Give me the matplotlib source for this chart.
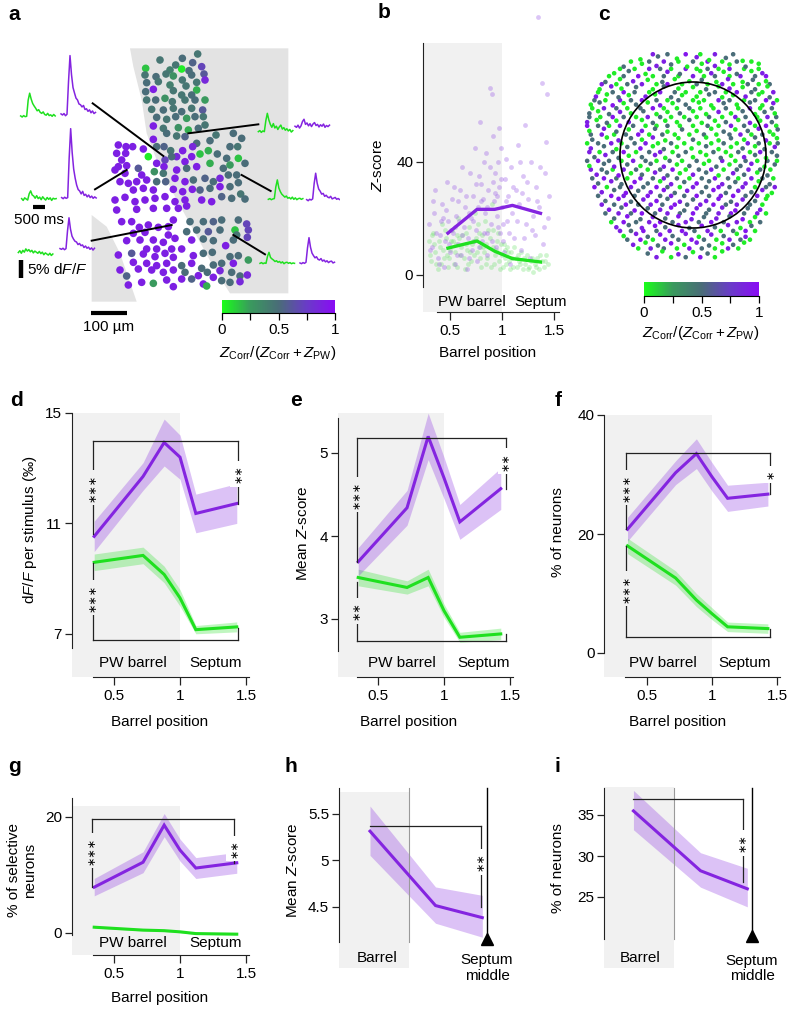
import numpy as np
import matplotlib
matplotlib.use('Agg')
import matplotlib.pyplot as plt
from matplotlib.colors import LinearSegmentedColormap
from matplotlib.patches import Rectangle, Polygon, Circle

plt.rcParams['font.family'] = ['Liberation Sans', 'DejaVu Sans']
plt.rcParams['font.size'] = 11
plt.rcParams['mathtext.fontset'] = 'custom'
plt.rcParams['mathtext.rm'] = 'Liberation Sans'
plt.rcParams['mathtext.it'] = 'Liberation Sans:italic'
plt.rcParams['mathtext.bf'] = 'Liberation Sans:bold'

W, H = 788, 1014
PURPLE = '#8424e0'
GREEN = '#1fe01f'
GRAY = '#f1f1f1'
INK = '#222222'
cmap = LinearSegmentedColormap.from_list(
    'zc', ['#1aff1a', '#3a9a5e', '#4a6d78', '#6a3cc8', '#8a0cf5'])

# ---------------- data ----------------
barrel_pos = [0.35, 0.72, 0.88, 1.0, 1.12, 1.43]

d_corr = [10.53, 12.7, 13.93, 13.4, 11.36, 11.72]
d_corr_err = [0.55, 0.5, 0.85, 0.8, 0.7, 0.72]
d_pw = [9.59, 9.84, 9.15, 8.3, 7.15, 7.25]
d_pw_err = [0.3, 0.3, 0.3, 0.3, 0.15, 0.18]

e_corr = [3.69, 4.34, 5.2, 4.7, 4.17, 4.57]
e_corr_err = [0.17, 0.21, 0.28, 0.25, 0.21, 0.25]
e_pw = [3.5, 3.38, 3.5, 3.1, 2.78, 2.82]
e_pw_err = [0.1, 0.08, 0.1, 0.08, 0.06, 0.07]

f_corr = [20.8, 30.3, 33.5, 29.6, 26.0, 26.7]
f_corr_err = [2.0, 2.0, 2.5, 2.4, 2.2, 2.0]
f_pw = [18.0, 12.6, 8.9, 6.6, 4.4, 4.1]
f_pw_err = [1.3, 1.2, 1.1, 1.0, 0.8, 0.8]

g_corr = [7.9, 12.2, 18.6, 14.3, 11.2, 12.1]
g_corr_err = [1.5, 1.8, 2.0, 1.9, 1.8, 1.8]
g_pw = [1.0, 0.5, 0.4, 0.2, -0.1, -0.2]
g_pw_err = [0.15, 0.15, 0.15, 0.15, 0.15, 0.15]

h_pos = [0.75, 1.17, 1.47]
h_mean = [5.31, 4.51, 4.38]
h_lo = [5.05, 4.32, 4.17]
h_hi = [5.58, 4.71, 4.62]

i_pos = [0.74, 1.17, 1.47]
i_mean = [35.5, 28.2, 26.0]
i_lo = [33.2, 26.2, 23.8]
i_hi = [38.0, 30.4, 28.5]

b_pos = [0.48, 0.76, 0.93, 1.10, 1.37]
b_corr = [14.8, 23.2, 23.2, 24.6, 21.8]
b_pw = [9.5, 12.0, 8.4, 5.8, 4.6]

b_cells_corr = [
    (0.30, 18), (0.33, 10), (0.35, 22), (0.38, 6), (0.40, 14), (0.42, 25), (0.44, 3), (0.45, 12),
    (0.47, 33), (0.48, 19), (0.50, 8), (0.52, 27), (0.53, 15), (0.55, 4), (0.56, 21), (0.58, 11),
    (0.60, 30), (0.61, 7), (0.63, 17), (0.64, 24), (0.66, 2), (0.67, 13), (0.69, 36), (0.70, 20),
    (0.71, 9), (0.72, 28), (0.74, 45), (0.75, 16), (0.76, 5), (0.77, 24), (0.79, 54), (0.80, 32),
    (0.81, 12), (0.83, 40), (0.84, 22), (0.85, 43), (0.86, 7), (0.87, 30), (0.88, 66), (0.89, 18),
    (0.90, 64), (0.91, 49), (0.92, 26), (0.93, 36), (0.94, 10), (0.95, 21), (0.96, 40), (0.97, 31),
    (0.98, 15), (0.99, 45), (1.00, 24), (1.02, 8), (1.03, 34), (1.05, 19), (1.06, 28), (1.08, 4),
    (1.09, 38), (1.10, 22), (1.12, 13), (1.13, 30), (1.15, 46), (1.16, 25), (1.18, 9), (1.20, 35),
    (1.22, 53), (1.23, 18), (1.25, 27), (1.27, 6), (1.28, 40), (1.30, 21), (1.32, 14), (1.33, 31),
    (1.35, 91), (1.36, 24), (1.38, 68), (1.39, 11), (1.41, 36), (1.43, 64), (1.44, 20), (1.45, 28),
    (0.36, 30), (0.55, 17), (0.62, 38), (0.78, 35), (0.82, 27), (0.91, 33), (0.97, 52), (1.04, 41),
    (0.43, 20), (0.58, 26), (0.68, 22), (0.73, 12), (0.86, 15), (0.95, 28), (1.01, 18), (1.19, 29),
    (0.31, 9), (0.34, 26), (0.37, 15), (0.39, 4), (0.41, 19), (0.46, 23), (0.49, 11), (0.51, 16),
    (0.54, 31), (0.57, 7), (0.59, 19), (0.62, 14), (0.65, 28), (0.68, 6), (0.72, 19), (0.75, 32),
    (0.78, 10), (0.80, 26), (0.83, 15), (0.86, 24), (0.88, 38), (0.90, 12), (0.93, 29), (0.96, 17),
    (0.99, 34), (1.01, 12), (1.04, 26), (1.07, 15), (1.11, 31), (1.14, 19), (1.17, 40), (1.21, 13),
    (1.24, 33), (1.29, 16), (1.34, 26), (1.37, 38), (1.40, 17), (1.42, 47),
]
b_cells_pw = [
    (0.30, 12), (0.32, 5), (0.34, 15), (0.36, 8), (0.38, 2), (0.40, 10), (0.42, 18), (0.44, 6),
    (0.46, 13), (0.48, 3), (0.50, 9), (0.52, 16), (0.54, 4), (0.56, 11), (0.58, 20), (0.60, 7),
    (0.62, 14), (0.64, 2), (0.66, 9), (0.68, 17), (0.70, 5), (0.72, 12), (0.74, 22), (0.76, 8),
    (0.78, 15), (0.80, 3), (0.82, 10), (0.84, 19), (0.86, 6), (0.88, 13), (0.90, 25), (0.92, 4),
    (0.94, 9), (0.96, 15), (0.98, 2), (1.00, 7), (1.02, 11), (1.04, 4), (1.06, 8), (1.08, 2),
    (1.10, 6), (1.12, 10), (1.14, 3), (1.16, 5), (1.18, 8), (1.20, 2), (1.22, 4), (1.24, 7),
    (1.26, 3), (1.28, 5), (1.30, 1), (1.32, 4), (1.34, 6), (1.36, 2), (1.38, 5), (1.40, 3),
    (1.42, 7), (1.44, 4), (0.35, 11), (0.47, 7), (0.57, 14), (0.65, 11), (0.79, 10), (0.91, 16),
    (1.03, 9), (1.15, 7), (0.41, 4), (0.53, 12), (0.69, 8), (0.85, 4),
    (0.31, 7), (0.33, 14), (0.37, 4), (0.39, 12), (0.43, 9), (0.45, 16), (0.49, 6), (0.51, 12),
    (0.55, 8), (0.57, 3), (0.59, 13), (0.61, 10), (0.63, 6), (0.65, 15), (0.67, 4), (0.71, 11),
    (0.73, 7), (0.75, 13), (0.77, 18), (0.79, 6), (0.81, 14), (0.83, 8), (0.85, 11), (0.87, 16),
    (0.89, 3), (0.91, 10), (0.93, 7), (0.95, 12), (0.97, 5), (0.99, 11), (1.01, 3), (1.03, 6),
    (1.05, 10), (1.07, 5), (1.09, 8), (1.11, 3), (1.13, 6), (1.17, 4), (1.21, 6), (1.25, 2),
    (1.29, 6), (1.33, 3), (1.37, 7), (1.41, 5),
]

# panel a: cells in field-of-view units (108 units = 100 um), value Z_Corr/(Z_Corr+Z_PW)
a_cells = [
    (593, 162, .45), (547, 175, .5), (480, 180, .45), (578, 188, .55),
    (437, 205, .15), (510, 210, .4), (545, 207, .05), (567, 212, .5), (605, 200, .7), (527, 195, .45),
    (435, 225, .45), (468, 230, .5), (498, 222, .45), (520, 228, .3), (575, 225, .5), (612, 222, .6), (547, 240, .45),
    (440, 248, .5), (475, 245, .45), (510, 255, .4), (558, 258, .45), (590, 247, .45), (615, 240, .85),
    (460, 268, .9), (437, 275, .5), (520, 272, .45), (590, 270, .2), (575, 285, .5), (545, 285, .45),
    (440, 300, .45), (467, 300, .5), (495, 295, .3), (517, 305, .45), (555, 300, .45), (615, 300, .25), (585, 300, .5),
    (455, 328, .45), (490, 330, .5), (520, 325, .45), (545, 335, .5), (575, 325, .45), (608, 330, .6),
    (470, 352, .5), (500, 358, .45), (527, 350, .5), (560, 355, .25), (585, 350, .5), (610, 350, .45),
    (460, 378, .9), (490, 385, .45), (535, 383, .3), (565, 390, .2), (595, 385, .5), (615, 375, .45),
    (460, 418, .9), (500, 400, .5), (530, 408, .45), (555, 410, .55),
    (700, 400, .5), (725, 415, .5), (713, 440, .45), (690, 440, .5), (630, 422, .5), (648, 405, .45), (590, 430, .5),
    (355, 435, .9), (378, 440, .9), (398, 440, .9), (350, 460, .9), (377, 460, .9), (445, 470, .05), (430, 447, .9),
    (470, 440, .5), (492, 440, .55), (512, 452, .45), (548, 452, .9), (578, 440, .85), (600, 462, .15), (625, 452, .2),
    (652, 462, .5), (680, 475, .5), (575, 470, .9), (530, 470, .85), (555, 485, .9), (495, 480, .7), (515, 470, .5),
    (470, 490, .9), (492, 500, .9), (463, 515, .3), (415, 505, .6), (380, 497, .9), (365, 480, .9), (345, 510, .9),
    (355, 500, .9), (375, 520, .9), (425, 525, .9), (490, 520, .45), (530, 510, .9), (560, 505, .5), (590, 500, .9),
    (630, 490, .2), (670, 505, .5), (690, 495, .25), (715, 475, .15), (735, 490, .5), (710, 525, .5),
    (360, 545, .9), (385, 550, .9), (410, 545, .9), (440, 540, .9), (470, 545, .5), (497, 545, .55), (525, 535, .9),
    (555, 545, .9), (580, 540, .5), (615, 535, .55), (640, 545, .5), (660, 535, .85), (685, 525, .5), (715, 548, .5),
    (400, 570, .9), (430, 565, .9), (460, 570, .9), (520, 568, .9), (548, 575, .9), (577, 568, .9), (600, 570, .55),
    (630, 565, .5), (660, 560, .9), (690, 560, .5), (722, 582, .45),
    (345, 600, .9), (375, 592, .9), (405, 605, .9), (435, 600, .9), (465, 595, .9), (495, 590, .9), (525, 605, .9),
    (555, 600, .9), (605, 600, .9), (635, 605, .9), (665, 590, .55), (695, 595, .5), (735, 597, .5),
    (350, 630, .9), (410, 628, .9), (460, 625, .9), (500, 625, .9), (535, 625, .9), (560, 618, .9),
    (520, 660, .9), (570, 665, .5), (610, 665, .5), (640, 665, .55), (665, 660, .5), (715, 660, .5), (740, 672, .7),
    (365, 665, .9), (395, 665, .9), (418, 682, .9), (445, 675, .9), (475, 682, .9), (505, 680, .9),
    (560, 695, .5), (590, 690, .5), (625, 695, .6), (660, 690, .5), (705, 690, .15), (745, 690, .7), (742, 712, .7),
    (710, 705, .45), (400, 700, .9), (435, 697, .9), (505, 705, .9),
    (380, 722, .9), (420, 720, .9), (460, 720, .9), (490, 727, .9), (525, 715, .9), (575, 720, .9), (610, 717, .5),
    (640, 722, .5), (677, 737, .9), (700, 720, .5),
    (440, 747, .9), (470, 747, .9), (515, 747, .9), (545, 747, .9),
    (355, 765, .9), (395, 760, .6), (430, 762, .9), (465, 770, .9), (495, 760, .9), (520, 772, .9), (580, 767, .9),
    (610, 760, .5), (637, 757, .5), (690, 770, .5), (715, 767, .5), (745, 780, .25),
    (400, 787, .9), (440, 790, .9), (470, 797, .9), (500, 790, .9), (545, 797, .5), (575, 790, .9), (605, 805, .5),
    (640, 795, .5), (665, 790, .5), (700, 790, .9),
    (360, 810, .9), (380, 828, .55), (415, 807, .9), (455, 810, .9), (490, 817, .9), (520, 810, .9), (555, 817, .5),
    (595, 827, .9), (622, 817, .5), (660, 812, .85), (695, 817, .5), (720, 828, .5), (742, 825, .85),
    (385, 855, .9), (425, 847, .9), (460, 850, .25), (500, 840, .9), (520, 860, .9), (545, 837, .9), (575, 837, .55),
    (610, 852, .9), (620, 858, .2), (640, 832, .9), (665, 842, .5), (690, 847, .5), (720, 845, .85),
]
a_barrel_outline = [(390, 145), (865, 145), (865, 880), (690, 880), (640, 800), (580, 690), (520, 580),
                    (470, 480), (440, 400), (425, 300), (400, 200)]
a_neighbour_outline = [(275, 645), (320, 680), (360, 760), (410, 905), (275, 905)]

# example traces (dF/F, %), sampled every 65 ms; (cell, trace start) and trace origins in FOV units
a_links = [((490, 468), (278, 310)), ((380, 510), (285, 568)), ((515, 675), (275, 722)),
           ((565, 400), (775, 373)), ((725, 525), (812, 573)), ((700, 705), (795, 763))]
a_trace_origin = [(62, 350, 183, 345), (65, 598, 185, 595), (55, 762, 180, 748),
                  (775, 395, 885, 382), (805, 598, 920, 600), (780, 790, 900, 790)]
a_trace_pw = [
    [0.2, -0.1, 0.3, 0.0, 0.1, 4.5, 6.4, 4.8, 3.6, 2.9, 2.3, 1.6, 1.9, 1.2, 0.9, 1.3, 0.6, 0.4, 0.9, 0.3, 0.5, 0.1, 0.6, 0.2],
    [0.2, -0.3, 0.4, 0.1, -0.2, 1.5, 2.3, 1.2, 0.9, 0.3, 1.0, 0.2, 0.6, -0.1, 0.7, 0.2, -0.2, 0.5, 0.0, 0.4, -0.3, 0.3, 0.1, 0.2],
    [0.4, 0.9, 0.2, 1.0, 0.5, 1.4, 0.8, 1.2, 0.6, 1.0, 0.3, 0.8, 0.5, 0.2, 0.7, 0.1, 0.5, -0.2, 0.3, 0.0, -0.3, 0.2, -0.4, 0.0],
    [0.0, 0.3, -0.2, 0.2, 0.0, 3.0, 5.0, 3.2, 2.0, 1.2, 2.2, 1.0, 1.5, 0.6, 1.3, 1.8, 0.7, 1.1, 0.4, 0.8, 0.2, 0.6, -0.1, 0.3],
    [0.0, 0.2, -0.1, 0.1, 0.2, 3.4, 5.3, 3.1, 2.1, 1.4, 1.0, 0.6, 0.9, 0.3, 0.5, 0.1, 0.6, 0.0, 0.4, -0.1, 0.2, 0.3, 0.0, 0.2],
    [0.0, 0.2, -0.1, 0.1, 0.0, 1.9, 3.0, 1.6, 1.2, 0.9, 0.5, 0.7, 0.3, 0.5, 0.1, 0.4, -0.1, 0.2, 0.3, 0.0, 0.2, -0.1, 0.1, 0.0],
]
a_trace_corr = [
    [0.3, 0.0, 0.4, -0.2, 0.2, 9.0, 16.2, 11.0, 7.5, 6.0, 4.6, 4.1, 3.0, 2.8, 2.2, 2.6, 1.5, 1.7, 1.0, 1.4, 0.6, 1.1, 0.4, 0.7],
    [0.2, -0.1, 0.3, 0.0, 0.2, 11.0, 19.0, 12.5, 8.0, 5.5, 3.6, 2.4, 2.0, 1.2, 1.9, 0.8, 1.1, 0.4, 0.9, 0.2, 0.6, 0.0, 0.4, 0.1],
    [0.2, 0.0, 0.3, -0.1, 0.2, 5.0, 8.6, 5.5, 3.6, 2.8, 2.2, 2.0, 1.3, 1.6, 1.0, 1.2, 0.5, 0.9, 0.3, 0.6, 0.0, 0.4, -0.2, 0.3],
    [0.3, 0.0, 0.6, -0.2, 0.4, 1.6, 2.2, 0.8, 1.2, 0.4, 1.0, 0.2, 0.9, 1.3, 0.5, 0.8, 0.1, 0.7, 0.3, 0.9, 0.0, 0.5, 0.2, 0.6],
    [0.1, -0.2, 0.2, 0.0, 0.3, 4.5, 7.3, 4.6, 3.0, 2.4, 1.6, 1.8, 1.0, 1.3, 0.8, 0.6, 1.0, 0.3, 0.5, 0.7, 0.2, 0.4, 0.1, 0.3],
    [0.1, -0.1, 0.2, 0.0, 0.3, 4.2, 7.0, 4.4, 2.8, 2.1, 1.5, 1.8, 1.1, 0.9, 1.3, 0.6, 0.9, 0.4, 0.7, 0.2, 0.5, 0.6, 0.1, 0.3],
]

# panel c: cell positions in barrel radii; rows (y, x list, value list) plus scattered extra cells
c_rows = [
    (1.38, [-0.55, -0.35, -0.1, 0.1, 0.3, 0.55], [.9, .5, .95, .05, .9, .5]),
    (1.28, [-0.85, -0.6, -0.4, -0.2, 0.0, 0.2, 0.4, 0.6, 0.8], [.05, .5, .9, .05, .5, .95, .05, .5, .05]),
    (1.18, [-1.0, -0.8, -0.6, -0.45, -0.3, -0.1, 0.05, 0.2, 0.35, 0.5, 0.7, 0.9],
     [.05, .05, .9, .5, .05, .9, .05, .5, .05, .9, .05, .05]),
    (1.08, [-1.15, -0.95, -0.75, -0.55, -0.4, -0.2, 0.0, 0.15, 0.3, 0.5, 0.65, 0.85, 1.0],
     [.05, .5, .95, .05, .5, .05, .9, .05, .5, .05, .9, .5, .95]),
    (0.97, [-1.25, -1.05, -0.9, -0.7, -0.5, -0.35, -0.15, 0.05, 0.2, 0.4, 0.55, 0.75, 0.9, 1.05],
     [.9, .05, .5, .9, .05, .95, .05, .5, .05, .9, .05, .5, .05, .5]),
    (0.86, [-1.3, -1.1, -0.95, -0.8, -0.6, -0.45, -0.25, -0.1, 0.1, 0.3, 0.45, 0.6, 0.8, 0.95, 1.1],
     [.05, .5, .95, .5, .05, .9, .5, .05, .05, .5, .05, .9, .5, .05, .9]),
    (0.75, [-1.35, -1.2, -1.0, -0.85, -0.7, -0.5, -0.35, -0.2, 0.0, 0.15, 0.35, 0.5, 0.7, 0.85, 1.0, 1.15],
     [.5, .05, .9, .5, .95, .5, .05, .5, .05, .05, .9, .5, .05, .5, .95, .05]),
    (0.64, [-1.38, -1.22, -1.05, -0.9, -0.72, -0.55, -0.4, -0.22, -0.05, 0.1, 0.28, 0.45, 0.62, 0.78, 0.92, 1.08],
     [.05, .9, .5, .05, .5, .95, .05, .05, .5, .05, .05, .5, .05, .9, .05, .5]),
    (0.52, [-1.42, -1.27, -1.1, -0.95, -0.78, -0.62, -0.45, -0.3, -0.12, 0.05, 0.22, 0.4, 0.58, 0.72, 0.88, 1.02, 1.14],
     [.5, .05, .95, .5, .05, .9, .5, .05, .05, .05, .5, .05, .9, .5, .05, .9, .5]),
    (0.40, [-1.45, -1.3, -1.15, -1.0, -0.82, -0.65, -0.5, -0.35, -0.18, 0.0, 0.2, 0.35, 0.52, 0.7, 0.85, 1.0, 1.14],
     [.95, .5, .05, .9, .5, .05, .05, .5, .05, .05, .5, .05, .9, .5, .05, .95, .05]),
    (0.28, [-1.4, -1.25, -1.08, -0.92, -0.75, -0.6, -0.42, -0.25, -0.05, 0.15, 0.32, 0.5, 0.65, 0.8, 0.95, 1.1],
     [.5, .9, .05, .5, .95, .05, .5, .05, .05, .5, .05, .5, .9, .05, .5, .05]),
    (0.16, [-1.45, -1.3, -1.12, -0.98, -0.8, -0.65, -0.48, -0.3, -0.12, 0.08, 0.25, 0.42, 0.6, 0.75, 0.9, 1.05, 1.16],
     [.05, .5, .9, .05, .5, .9, .05, .5, .05, .05, .05, .5, .05, .9, .5, .05, .5]),
    (0.04, [-1.42, -1.28, -1.1, -0.95, -0.78, -0.6, -0.45, -0.28, -0.1, 0.1, 0.28, 0.45, 0.62, 0.78, 0.92, 1.08],
     [.9, .05, .5, .95, .05, .5, .9, .05, .5, .05, .5, .05, .5, .05, .9, .5]),
    (-0.08, [-1.45, -1.3, -1.15, -0.98, -0.82, -0.65, -0.5, -0.32, -0.15, 0.05, 0.22, 0.4, 0.58, 0.72, 0.88, 1.02, 1.15],
     [.5, .95, .5, .05, .9, .5, .05, .5, .05, .5, .05, .9, .05, .5, .05, .5, .05]),
    (-0.20, [-1.4, -1.25, -1.1, -0.95, -0.78, -0.62, -0.45, -0.28, -0.1, 0.08, 0.25, 0.42, 0.6, 0.76, 0.92, 1.06],
     [.9, .5, .05, .9, .5, .05, .5, .95, .05, .5, .9, .05, .5, .9, .5, .05]),
    (-0.32, [-1.38, -1.22, -1.05, -0.9, -0.72, -0.55, -0.4, -0.22, -0.05, 0.12, 0.3, 0.48, 0.62, 0.8, 0.95, 1.1],
     [.5, .95, .5, .05, .9, .5, .9, .5, .05, .5, .95, .5, .05, .9, .5, .05]),
    (-0.44, [-1.35, -1.18, -1.0, -0.85, -0.68, -0.5, -0.35, -0.18, 0.0, 0.18, 0.35, 0.5, 0.68, 0.85, 1.0, 1.12],
     [.95, .05, .5, .9, .5, .95, .5, .05, .9, .5, .95, .5, .9, .05, .5, .9]),
    (-0.56, [-1.3, -1.12, -0.95, -0.8, -0.62, -0.45, -0.3, -0.12, 0.05, 0.22, 0.38, 0.55, 0.72, 0.88, 1.02],
     [.5, .95, .9, .5, .95, .5, .9, .5, .95, .5, .9, .95, .5, .9, .05]),
    (-0.68, [-1.25, -1.08, -0.92, -0.75, -0.58, -0.42, -0.25, -0.08, 0.1, 0.28, 0.45, 0.6, 0.78, 0.95],
     [.9, .5, .95, .5, .9, .5, .95, .5, .9, .95, .5, .9, .5, .05]),
    (-0.80, [-1.2, -1.02, -0.85, -0.7, -0.52, -0.35, -0.18, 0.0, 0.18, 0.35, 0.52, 0.7, 0.88, 1.0],
     [.5, .9, .5, .95, .5, .9, .5, .95, .5, .9, .95, .5, .9, .05]),
    (-0.92, [-1.12, -0.95, -0.78, -0.6, -0.45, -0.28, -0.1, 0.08, 0.25, 0.42, 0.6, 0.78, 0.92],
     [.05, .95, .5, .9, .95, .5, .9, .5, .95, .5, .9, .05, .5]),
    (-1.04, [-1.0, -0.85, -0.68, -0.5, -0.32, -0.15, 0.02, 0.2, 0.38, 0.55, 0.72, 0.85],
     [.9, .5, .95, .5, .9, .95, .5, .9, .05, .5, .95, .05]),
    (-1.16, [-0.9, -0.72, -0.55, -0.38, -0.2, -0.02, 0.15, 0.32, 0.5, 0.65, 0.78],
     [.5, .95, .05, .9, .5, .95, .5, .05, .9, .5, .05]),
    (-1.28, [-0.75, -0.58, -0.4, -0.22, -0.05, 0.12, 0.3, 0.48, 0.62], [.05, .9, .5, .05, .95, .5, .05, .9, .05]),
    (-1.40, [-0.5, -0.3, -0.1, 0.1, 0.3], [.9, .05, .5, .95, .05]),
]
c_extra = [
    (-0.72, 1.31, .05), (-0.48, 1.35, .5), (-0.22, 1.32, .05), (0.05, 1.34, .9), (0.22, 1.30, .05), (0.45, 1.33, .5),
    (0.68, 1.29, .05), (-0.95, 1.21, .5), (-0.7, 1.25, .05), (-0.5, 1.22, .9), (-0.3, 1.24, .5), (-0.08, 1.21, .05),
    (0.12, 1.25, .05), (0.3, 1.22, .9), (0.5, 1.24, .05), (0.72, 1.21, .5), (0.9, 1.25, .05),
    (-1.08, 1.12, .05), (-0.88, 1.15, .5), (-0.65, 1.11, .05), (-0.35, 1.14, .9), (-0.18, 1.11, .5), (0.1, 1.15, .05),
    (0.25, 1.12, .9), (0.42, 1.14, .05), (0.6, 1.11, .5), (0.8, 1.15, .05), (0.95, 1.12, .9),
    (-1.2, 1.0, .5), (-1.0, 1.04, .05), (-0.82, 1.01, .9), (-0.62, 1.03, .05), (-0.42, 1.0, .5), (-0.25, 1.04, .05),
    (-0.05, 1.01, .05), (0.12, 1.03, .5), (0.32, 1.0, .05), (0.48, 1.04, .9), (0.68, 1.0, .05), (0.82, 1.03, .5),
    (1.0, 1.01, .05), (-1.28, 0.9, .05), (-1.12, 0.94, .9), (-0.98, 0.91, .05), (-0.78, 0.93, .5), (-0.55, 0.9, .05),
    (-0.4, 0.94, .5), (-0.2, 0.91, .05), (0.0, 0.93, .05), (0.18, 0.9, .5), (0.35, 0.94, .05), (0.5, 0.91, .9),
    (0.68, 0.93, .05), (0.85, 0.9, .5), (1.02, 0.94, .05),
    (-1.33, 0.8, .9), (-1.18, 0.83, .05), (-1.02, 0.79, .5), (-0.88, 0.82, .05), (-0.65, 0.8, .9), (-0.52, 0.83, .05),
    (-0.3, 0.79, .5), (-0.15, 0.82, .05), (0.05, 0.8, .05), (0.22, 0.83, .5), (0.4, 0.79, .05), (0.55, 0.82, .05),
    (0.72, 0.8, .9), (0.9, 0.83, .05), (1.05, 0.79, .5),
    (-1.4, 0.69, .05), (-1.28, 0.72, .5), (-1.1, 0.68, .95), (-0.95, 0.71, .05), (-0.78, 0.69, .5), (-0.62, 0.72, .05),
    (-0.45, 0.68, .9), (-0.28, 0.71, .05), (-0.1, 0.69, .5), (0.08, 0.72, .05), (0.25, 0.68, .05), (0.42, 0.71, .5),
    (0.6, 0.69, .05), (0.78, 0.72, .5), (0.95, 0.68, .05), (1.1, 0.71, .9),
    (-1.42, 0.57, .5), (-1.3, 0.6, .05), (-1.15, 0.56, .5), (-1.0, 0.59, .9), (-0.85, 0.57, .05), (-0.68, 0.6, .5),
    (-0.5, 0.56, .05), (-0.35, 0.59, .05), (-0.18, 0.57, .5), (0.0, 0.6, .05), (0.18, 0.56, .05), (0.35, 0.59, .9),
    (0.52, 0.57, .05), (0.68, 0.6, .5), (0.85, 0.56, .05), (0.98, 0.59, .5), (1.12, 0.57, .05),
    (-1.45, 0.45, .9), (-1.32, 0.48, .05), (-1.18, 0.44, .5), (-1.05, 0.47, .05), (-0.88, 0.45, .9), (-0.7, 0.48, .05),
    (-0.55, 0.44, .5), (-0.38, 0.47, .05), (-0.22, 0.45, .05), (-0.05, 0.48, .5), (0.12, 0.44, .05), (0.3, 0.47, .05),
    (0.45, 0.45, .5), (0.62, 0.48, .05), (0.78, 0.44, .9), (0.92, 0.47, .05), (1.08, 0.45, .5),
    (-1.42, 0.33, .05), (-1.22, 0.36, .9), (-1.05, 0.32, .5), (-0.88, 0.35, .05), (-0.7, 0.33, .9), (-0.52, 0.36, .5),
    (-0.35, 0.32, .05), (-0.15, 0.35, .5), (0.05, 0.33, .05), (0.25, 0.36, .05), (0.42, 0.32, .5), (0.58, 0.35, .05),
    (0.75, 0.33, .5), (0.9, 0.36, .9), (1.05, 0.32, .05), (1.16, 0.35, .5),
    (-1.38, 0.21, .5), (-1.18, 0.24, .05), (-1.02, 0.2, .9), (-0.85, 0.23, .5), (-0.7, 0.21, .05), (-0.55, 0.24, .9),
    (-0.38, 0.2, .05), (-0.2, 0.23, .05), (0.0, 0.21, .5), (0.18, 0.24, .05), (0.35, 0.2, .05), (0.52, 0.23, .5),
    (0.7, 0.21, .05), (0.85, 0.24, .5), (1.0, 0.2, .9), (1.15, 0.23, .05),
    (-1.4, 0.09, .9), (-1.22, 0.12, .5), (-1.05, 0.08, .05), (-0.9, 0.11, .5), (-0.72, 0.09, .95), (-0.55, 0.12, .05),
    (-0.4, 0.08, .5), (-0.22, 0.11, .05), (-0.02, 0.09, .05), (0.18, 0.12, .5), (0.35, 0.08, .05), (0.52, 0.11, .05),
    (0.68, 0.09, .5), (0.85, 0.12, .05), (0.98, 0.08, .5), (1.12, 0.11, .9),
    (-1.35, -0.03, .5), (-1.2, 0.0, .9), (-1.02, -0.04, .5), (-0.88, -0.01, .05), (-0.7, -0.03, .5), (-0.52, 0.0, .9),
    (-0.38, -0.04, .05), (-0.2, -0.01, .5), (0.0, -0.03, .05), (0.18, 0.0, .05), (0.38, -0.04, .5), (0.52, -0.01, .05),
    (0.7, -0.03, .9), (0.85, 0.0, .5), (1.0, -0.04, .05), (1.15, -0.01, .5),
    (-1.42, -0.15, .05), (-1.22, -0.12, .5), (-1.08, -0.16, .9), (-0.9, -0.13, .5), (-0.72, -0.15, .05),
    (-0.58, -0.12, .5), (-0.4, -0.16, .9), (-0.22, -0.13, .05), (-0.05, -0.15, .5), (0.15, -0.12, .05),
    (0.32, -0.16, .5), (0.5, -0.13, .05), (0.65, -0.15, .5), (0.8, -0.12, .9), (0.98, -0.16, .05), (1.12, -0.13, .5),
    (-1.32, -0.27, .9), (-1.18, -0.24, .5), (-1.02, -0.28, .95), (-0.85, -0.25, .05), (-0.7, -0.27, .5),
    (-0.52, -0.24, .9), (-0.35, -0.28, .5), (-0.18, -0.25, .05), (0.0, -0.27, .9), (0.18, -0.24, .5),
    (0.35, -0.28, .05), (0.55, -0.25, .9), (0.7, -0.27, .5), (0.88, -0.24, .05), (1.02, -0.28, .5),
    (-1.3, -0.39, .5), (-1.12, -0.36, .9), (-0.98, -0.4, .5), (-0.8, -0.37, .95), (-0.62, -0.39, .5),
    (-0.45, -0.36, .05), (-0.3, -0.4, .9), (-0.12, -0.37, .5), (0.05, -0.39, .95), (0.22, -0.36, .5),
    (0.4, -0.4, .9), (0.58, -0.37, .5), (0.72, -0.39, .9), (0.9, -0.36, .05), (1.05, -0.4, .5),
    (-1.25, -0.51, .9), (-1.08, -0.48, .5), (-0.92, -0.52, .95), (-0.75, -0.49, .5), (-0.58, -0.51, .9),
    (-0.4, -0.48, .95), (-0.25, -0.52, .5), (-0.08, -0.49, .9), (0.12, -0.51, .5), (0.28, -0.48, .95),
    (0.45, -0.52, .5), (0.62, -0.49, .9), (0.8, -0.51, .5), (0.95, -0.48, .9), (1.08, -0.52, .05),
    (-1.2, -0.63, .5), (-1.02, -0.6, .95), (-0.85, -0.64, .5), (-0.68, -0.61, .9), (-0.5, -0.63, .95),
    (-0.35, -0.6, .5), (-0.18, -0.64, .9), (0.0, -0.61, .5), (0.18, -0.63, .9), (0.35, -0.6, .95),
    (0.52, -0.64, .5), (0.68, -0.61, .9), (0.85, -0.63, .5), (1.0, -0.6, .05),
    (-1.15, -0.75, .9), (-0.98, -0.72, .5), (-0.8, -0.76, .95), (-0.62, -0.73, .5), (-0.45, -0.75, .9),
    (-0.3, -0.72, .95), (-0.12, -0.76, .5), (0.05, -0.73, .9), (0.22, -0.75, .5), (0.4, -0.72, .9),
    (0.58, -0.76, .95), (0.75, -0.73, .5), (0.92, -0.75, .9),
    (-1.08, -0.87, .5), (-0.9, -0.84, .95), (-0.72, -0.88, .5), (-0.55, -0.85, .9), (-0.38, -0.87, .5),
    (-0.2, -0.84, .95), (-0.02, -0.88, .9), (0.15, -0.85, .5), (0.32, -0.87, .9), (0.5, -0.84, .5),
    (0.68, -0.88, .95), (0.85, -0.85, .05),
    (-1.05, -0.99, .9), (-0.88, -0.96, .5), (-0.7, -1.0, .9), (-0.52, -0.97, .95), (-0.38, -0.99, .5),
    (-0.2, -0.96, .9), (-0.05, -1.0, .5), (0.12, -0.97, .95), (0.3, -0.99, .5), (0.48, -0.96, .9),
    (0.65, -1.0, .05), (0.8, -0.97, .5),
    (-0.95, -1.11, .05), (-0.78, -1.08, .9), (-0.62, -1.12, .5), (-0.45, -1.09, .95), (-0.28, -1.11, .5),
    (-0.1, -1.08, .9), (0.08, -1.12, .05), (0.25, -1.09, .9), (0.42, -1.11, .5), (0.6, -1.08, .05), (0.72, -1.12, .9),
    (-0.82, -1.23, .9), (-0.65, -1.2, .05), (-0.48, -1.24, .5), (-0.3, -1.21, .95), (-0.12, -1.23, .05),
    (0.05, -1.2, .9), (0.22, -1.24, .5), (0.4, -1.21, .05), (0.55, -1.23, .5), (0.7, -1.2, .05),
    (-0.62, -1.35, .5), (-0.42, -1.32, .05), (-0.2, -1.36, .9), (0.0, -1.33, .05), (0.2, -1.35, .5), (0.4, -1.32, .05),
]

# ---------------- helpers ----------------
fig = plt.figure(figsize=(W / 100, H / 100), dpi=100)


def add_ax(x0, sx, y0, sy, xlim, ylim):
    # pixel position: px = x0 + sx * x, py = y0 - sy * y
    l, r = x0 + sx * xlim[0], x0 + sx * xlim[1]
    t, b = y0 - sy * ylim[1], y0 - sy * ylim[0]
    ax = fig.add_axes([l / W, 1 - b / H, (r - l) / W, (b - t) / H])
    ax.set_xlim(xlim)
    ax.set_ylim(ylim)
    ax.patch.set_alpha(0)
    return ax


def ftext(x, y, s, **kw):
    fig.text(x / W, 1 - y / H, s, **kw)


def style(ax, ybounds, yticks, xbounds=None, xticks=None):
    for sp in ('top', 'right'):
        ax.spines[sp].set_visible(False)
    ax.spines['left'].set_bounds(*ybounds)
    ax.spines['left'].set_color(INK)
    ax.set_yticks(yticks)
    ax.set_yticklabels([('%g' % v) for v in yticks])
    ax.tick_params(axis='y', length=5, width=0.9, color=INK, pad=2)
    if xbounds is None:
        ax.spines['bottom'].set_visible(False)
        ax.set_xticks([])
    else:
        ax.spines['bottom'].set_bounds(*xbounds)
        ax.spines['bottom'].set_color(INK)
        ax.set_xticks(xticks)
        ax.set_xticklabels([('%g' % v) for v in xticks])
        ax.tick_params(axis='x', length=5.5, width=0.9, color=INK, pad=3)


def gray_box(ax, right, top):
    x0, y0 = ax.get_xlim()[0], ax.get_ylim()[0]
    ax.add_patch(Rectangle((x0, y0), right - x0, top - y0, color=GRAY, lw=0, zorder=0))


def band(ax, xs, mean, lo, hi, color):
    ax.fill_between(xs, lo, hi, color=color, alpha=0.28, lw=0, zorder=1)
    ax.plot(xs, mean, color=color, lw=2.2, zorder=2, solid_joinstyle='miter')


def band_err(ax, xs, mean, err, color):
    m, e = np.array(mean), np.array(err)
    band(ax, xs, m, m - e, m + e, color)


def bracket(ax, xl, xr, y, left=None, right=None):
    ax.plot([xl, xr], [y, y], color=INK, lw=0.9, zorder=3)
    for x, spec in ((xl, left), (xr, right)):
        if spec is None:
            continue
        yend, stars, ys, bg = spec
        ax.plot([x, x], [y, yend], color=INK, lw=0.9, zorder=3)
        if stars:
            ax.text(x, ys, '\u2217' * len(stars), rotation=90, ha='center', va='center', fontsize=8,
                    family='DejaVu Sans', bbox=dict(fc=bg, ec='none', pad=2.5), zorder=4)


def region_labels(ax, xa, xb, off):
    for x, s in ((xa, 'PW barrel'), (xb, 'Septum')):
        ax.annotate(s, xy=(x, 0), xycoords=('data', 'axes fraction'), xytext=(0, off),
                    textcoords='offset pixels', ha='center', va='center')


# ---------------- panel a ----------------
ax = fig.add_axes([0, 1 - 340 / H, 340 / W, 340 / H])
ax.set_xlim(0, 1020)
ax.set_ylim(1020, 0)
ax.axis('off')
ax.add_patch(Polygon(a_barrel_outline, closed=True, color='#e3e3e3', lw=0, zorder=0))
ax.add_patch(Polygon(a_neighbour_outline, closed=True, color='#e3e3e3', lw=0, zorder=0))
cx, cy, cv = zip(*a_cells)
ax.scatter(cx, cy, c=cv, cmap=cmap, vmin=0, vmax=1, s=30, lw=0, zorder=2)
for (p, q) in a_links:
    ax.plot([p[0], q[0]], [p[1], q[1]], color='k', lw=1.4, zorder=3)
TRACE_DX, PCT = 4.5, 11.0
for (gx, gy, px, py), tg, tp in zip(a_trace_origin, a_trace_pw, a_trace_corr):
    ax.plot(gx + np.arange(len(tg)) * TRACE_DX, gy - np.array(tg) * PCT, color=GREEN, lw=1.1)
    ax.plot(px + np.arange(len(tp)) * TRACE_DX, py - np.array(tp) * PCT, color=PURPLE, lw=1.1)
ax.plot([100, 135], [622, 622], color='k', lw=3, solid_capstyle='butt')
ax.text(117, 660, '500 ms', ha='center', va='center')
ax.plot([62, 62], [835, 780], color='k', lw=3.2, solid_capstyle='butt')
ax.text(80, 808, '5% d$F$/$F$', ha='left', va='center')
ax.plot([272, 380], [940, 940], color='k', lw=3, solid_capstyle='butt')
ax.text(326, 982, '100 µm', ha='center', va='center')


def colorbar(l, t, r, b, lab_y, lab_x):
    cax = fig.add_axes([l / W, 1 - b / H, (r - l) / W, (b - t) / H])
    cax.imshow(np.linspace(0, 1, 256)[None, :], cmap=cmap, aspect='auto', extent=[0, 1, 0, 1])
    cax.set_xlim(0, 1)
    cax.set_yticks([])
    for sp in ('top', 'left', 'right'):
        cax.spines[sp].set_visible(False)
    cax.set_xticks([0, 0.25, 0.5, 0.75, 1])
    cax.set_xticklabels(['0', '', '0.5', '', '1'])
    cax.tick_params(axis='x', length=5, width=0.9, pad=2.5)
    ftext(lab_x, lab_y, r'$Z_{\rm Corr}/(Z_{\rm Corr}+Z_{\rm PW})$', ha='center', va='center')


colorbar(222, 300, 335, 313, 353, 278)

# ---------------- panel b ----------------
ax = add_ax(398, 104, 275, 2.83, (0.24, 1.58), (-13.1, 95))
gray_box(ax, 1.0, 82)
px_, py_ = zip(*b_cells_pw)
ax.scatter(px_, py_, s=12, color='#55dd55', alpha=0.28, lw=0, zorder=1)
qx_, qy_ = zip(*b_cells_corr)
ax.scatter(qx_, qy_, s=12, color='#9a5be6', alpha=0.35, lw=0, zorder=1)
ax.plot(b_pos, b_pw, color=GREEN, lw=2.4, zorder=2)
ax.plot(b_pos, b_corr, color=PURPLE, lw=2.4, zorder=2)
style(ax, (-4.2, 82), [0, 40], (0.375, 1.55), [0.5, 1, 1.5])
region_labels(ax, 0.71, 1.37, 10)
ftext(378, 165, '$Z$-score', rotation=90, ha='center', va='center')
ftext(488, 353, 'Barrel position', ha='center', va='center')

# ---------------- panel c ----------------
ax = add_ax(693, 73, 155, 73, (-1.62, 1.30), (-1.64, 1.71))
ax.axis('off')
xs_c = [x for y, row, vals in c_rows for x in row] + [p[0] for p in c_extra]
ys_c = [y for y, row, vals in c_rows for x in row] + [p[1] for p in c_extra]
vs_c = [v for y, row, vals in c_rows for v in vals] + [p[2] for p in c_extra]
ax.scatter(xs_c, ys_c, c=vs_c, cmap=cmap, vmin=0, vmax=1, s=11, lw=0, zorder=1)
ax.add_patch(Circle((0, 0), 1.0, fill=False, ec='k', lw=1.2, zorder=2))
colorbar(644, 282, 759, 296, 333, 701)

# ---------------- panel d ----------------
ax = add_ax(48, 132, 827, 27.6, (0.18, 1.56), (5.44, 15.2))
gray_box(ax, 1.0, 15)
band_err(ax, barrel_pos, d_pw, d_pw_err, GREEN)
band_err(ax, barrel_pos, d_corr, d_corr_err, PURPLE)
style(ax, (6.5, 15), [7, 11, 15], (0.34, 1.52), [0.5, 1, 1.5])
bracket(ax, 0.34, 1.44, 13.97, left=(10.6, '***', 12.3, GRAY), right=(11.72, '**', 12.8, 'white'))
bracket(ax, 0.34, 1.44, 6.78, left=(9.55, '***', 8.3, GRAY), right=(7.2, '', 0, 'white'))
region_labels(ax, 0.64, 1.27, 14)
ftext(30, 530, 'd$F$/$F$ per stimulus (‰)', rotation=90, ha='center', va='center')
ftext(160, 722, 'Barrel position', ha='center', va='center')

# ---------------- panel e ----------------
ax = add_ax(312, 132, 868, 83, (0.197, 1.56), (2.30, 5.55))
gray_box(ax, 1.0, 5.48)
band_err(ax, barrel_pos, e_pw, e_pw_err, GREEN)
band_err(ax, barrel_pos, e_corr, e_corr_err, PURPLE)
style(ax, (2.62, 5.42), [3, 4, 5], (0.34, 1.52), [0.5, 1, 1.5])
bracket(ax, 0.34, 1.47, 5.18, left=(3.69, '***', 4.5, GRAY), right=(4.57, '**', 4.9, 'white'))
bracket(ax, 0.34, 1.47, 2.73, left=(3.45, '**', 3.1, GRAY), right=(2.82, '', 0, 'white'))
region_labels(ax, 0.68, 1.30, 14)
ftext(303, 533, 'Mean $Z$-score', rotation=90, ha='center', va='center')
ftext(409, 722, 'Barrel position', ha='center', va='center')

# ---------------- panel f ----------------
ax = add_ax(582, 130, 653, 5.95, (0.17, 1.58), (-4.03, 40.5))
gray_box(ax, 1.0, 40)
band_err(ax, barrel_pos, f_pw, f_pw_err, GREEN)
band_err(ax, barrel_pos, f_corr, f_corr_err, PURPLE)
style(ax, (0, 40), [0, 20, 40], (0.33, 1.52), [0.5, 1, 1.5])
bracket(ax, 0.34, 1.45, 33.6, left=(20.8, '***', 27.8, GRAY), right=(26.7, '*', 30.0, 'white'))
bracket(ax, 0.34, 1.45, 2.7, left=(18.0, '***', 10.8, GRAY), right=(4.1, '', 0, 'white'))
region_labels(ax, 0.62, 1.25, 14)
ftext(558, 532, '% of neurons', rotation=90, ha='center', va='center')
ftext(678, 722, 'Barrel position', ha='center', va='center')

# ---------------- panel g ----------------
ax = add_ax(48, 132, 933, 5.8, (0.18, 1.56), (-3.8, 23.5))
gray_box(ax, 1.0, 21.9)
band_err(ax, barrel_pos, g_pw, g_pw_err, GREEN)
band_err(ax, barrel_pos, g_corr, g_corr_err, PURPLE)
style(ax, (-0.3, 23.3), [0, 20], (0.34, 1.52), [0.5, 1, 1.5])
bracket(ax, 0.33, 1.41, 19.7, left=(7.9, '***', 14.2, GRAY), right=(12.1, '**', 14.6, 'white'))
region_labels(ax, 0.64, 1.27, 12)
ftext(22, 870, '% of selective\nneurons', rotation=90, ha='center', va='center', linespacing=1.1)
ftext(160, 998, 'Barrel position', ha='center', va='center')


# ---------------- panels h, i ----------------
def septum_panel(ax, xs, mean, lo, hi, ybounds, yticks, gray_top, brk, label, lx, ly):
    gray_box(ax, 1.0, gray_top)
    band(ax, xs, mean, lo, hi, PURPLE)
    ax.plot([1.0, 1.0], [ybounds[0], ybounds[1]], color='#9a9a9a', lw=0.8, zorder=1)
    ybot = ybounds[0] + 0.02 * (ybounds[1] - ybounds[0])
    ax.plot([1.5, 1.5], [ybot, ybounds[1]], color='k', lw=1.0, zorder=5)
    ax.plot([1.5], [ybot], marker='^', color='k', ms=8, zorder=5, clip_on=False)
    style(ax, ybounds, yticks)
    bracket(ax, xs[0], brk[0], brk[1], right=brk[2:] + ('white',))
    ax.annotate('Barrel', xy=(lx, 0), xycoords=('data', 'axes fraction'), xytext=(0, 10),
                textcoords='offset pixels', ha='center', va='center')
    ax.annotate('Septum\nmiddle', xy=(1.5, 0), xycoords=('data', 'axes fraction'), xytext=(0, 0),
                textcoords='offset pixels', ha='center', va='center', linespacing=1.15)
    ftext(ly[0], ly[1], label, rotation=90, ha='center', va='center')


ax = add_ax(253, 156, 1325, 93, (0.551, 1.70), (3.84, 5.80))
septum_panel(ax, h_pos, h_mean, h_lo, h_hi, (4.12, 5.77), [4.5, 5, 5.5], 5.73,
             (1.46, 5.37, 4.5, '**', 4.98), 'Mean $Z$-score', 0.795, (293, 870))

ax = add_ax(518, 156, 1102, 8.2, (0.551, 1.70), (16.3, 38.6))
septum_panel(ax, i_pos, i_mean, i_lo, i_hi, (19.9, 38.3), [25, 30, 35], 38.4,
             (1.44, 37.0, 26.8, '**', 31.6), '% of neurons', 0.78, (558, 868))

# ---------------- panel letters ----------------
for s, x, y in (('a', 8, 15), ('b', 378, 13), ('c', 598, 15), ('d', 10, 400), ('e', 290, 400),
                ('f', 555, 400), ('g', 8, 767), ('h', 285, 767), ('i', 555, 767)):
    ftext(x, y, s, fontsize=15, fontweight='bold', ha='left', va='center')

fig.savefig('out.png', dpi=100)
